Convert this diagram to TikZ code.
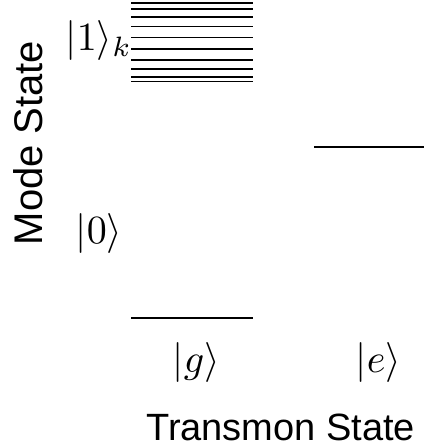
\documentclass[tikz,border=0pt]{standalone}
\usepackage{fontspec}
\setsansfont{Liberation Sans}
\begin{document}
\begin{tikzpicture}[x=1pt,y=-1pt,
  level/.style={line width=1.6pt},
  mathlbl/.style={inner sep=0pt,anchor=base west,scale=4,transform shape},
  axlbl/.style={inner sep=0pt,font=\sffamily\fontsize{38}{44}\selectfont}]
\useasboundingbox (0,0) rectangle (424,448);
% mode levels
\foreach \yy in {2.7,8.7,16.7,26.3,37.3,48.7,59.7,69,76.7,81.3}{
  \draw[level] (131,\yy) -- (253,\yy);
}
\coordinate (g1) at (131,318);
\coordinate (g2) at (253,318);
\coordinate (e1) at (314,146.7);
\coordinate (e2) at (424,146.7);
\draw[level] (g1) -- (g2);
\draw[level] (e1) -- (e2);
\node[mathlbl] (one) at (65,50) {$|1\rangle_k$};
\node[mathlbl] (zero) at (75,243) {$|0\rangle$};
\node[mathlbl] (gl) at (172,372) {$|g\rangle$};
\node[mathlbl] (el) at (355,372) {$|e\rangle$};
\node[axlbl,anchor=base west] (tx) at (146,440) {Transmon State};
\node[axlbl,anchor=base,rotate=90,font=\sffamily\fontsize{40}{44}\selectfont] (mx) at (42,143) {Mode State};
\end{tikzpicture}
\end{document}
